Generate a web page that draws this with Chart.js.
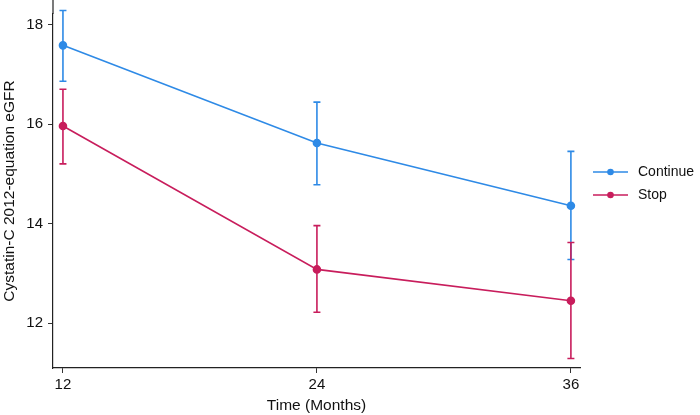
<!DOCTYPE html>
<html>
<head>
<meta charset="utf-8">
<script src="https://cdn.jsdelivr.net/npm/chart.js@4"></script>
<style>
  body { margin: 0; background: #fff; }
  #wrap { width: 700px; height: 415px; }
</style>
</head>
<body>
<div id="wrap"><canvas id="myChart"></canvas></div>
<script>
// data
const months = [12, 24, 36];
const continueMean = [17.58, 15.62, 14.36];
const continueLow = [16.86, 14.78, 13.28];
const continueHigh = [18.28, 16.44, 15.45];
const stopMean = [15.96, 13.08, 12.45];
const stopLow = [15.2, 12.22, 11.29];
const stopHigh = [16.7, 13.96, 13.62];
const yTicks = [12, 14, 16, 18];

const blue = '#2e8ae6';
const red = '#c81d5c';
const font = '"Liberation Sans", Arial, Helvetica, sans-serif';

function pts(means) {
  return months.map((m, i) => ({ x: m, y: means[i] }));
}

// error bars + custom legend
const errorBars = {
  id: 'errorBars',
  beforeDatasetsDraw(chart) {
    const ctx = chart.ctx;
    const xs = chart.scales.x, ys = chart.scales.y;
    const sets = [[continueLow, continueHigh, blue], [stopLow, stopHigh, red]];
    ctx.save();
    // y axis line runs up to the top edge in the original
    ctx.strokeStyle = '#222';
    ctx.lineWidth = 1.2;
    ctx.beginPath();
    ctx.moveTo(chart.chartArea.left, 0);
    ctx.lineTo(chart.chartArea.left, chart.chartArea.top);
    ctx.stroke();
    sets.forEach(s => {
      ctx.strokeStyle = s[2];
      ctx.lineWidth = 1.6;
      months.forEach((m, i) => {
        const px = xs.getPixelForValue(m);
        const lo = ys.getPixelForValue(s[0][i]);
        const hi = ys.getPixelForValue(s[1][i]);
        ctx.beginPath();
        ctx.moveTo(px, lo); ctx.lineTo(px, hi);
        ctx.moveTo(px - 3.5, lo); ctx.lineTo(px + 3.5, lo);
        ctx.moveTo(px - 3.5, hi); ctx.lineTo(px + 3.5, hi);
        ctx.stroke();
      });
    });
    ctx.restore();
  },
  afterDraw(chart) {
    const ctx = chart.ctx;
    const items = [['Continue', blue, 172], ['Stop', red, 195]];
    ctx.save();
    items.forEach(it => {
      ctx.strokeStyle = it[1];
      ctx.fillStyle = it[1];
      ctx.lineWidth = 1.6;
      ctx.beginPath();
      ctx.moveTo(593, it[2]); ctx.lineTo(628, it[2]);
      ctx.stroke();
      ctx.beginPath();
      ctx.arc(610.5, it[2], 3.3, 0, Math.PI * 2);
      ctx.fill();
      ctx.fillStyle = '#111';
      ctx.font = '14px ' + font;
      ctx.textBaseline = 'middle';
      ctx.fillText(it[0], 638, it[2]);
    });
    ctx.restore();
  }
};

new Chart(document.getElementById('myChart'), {
  type: 'line',
  data: {
    datasets: [
      { label: 'Continue', data: pts(continueMean), borderColor: blue, backgroundColor: blue,
        borderWidth: 1.6, pointRadius: 3.5, pointHoverRadius: 3.5, tension: 0 },
      { label: 'Stop', data: pts(stopMean), borderColor: red, backgroundColor: red,
        borderWidth: 1.6, pointRadius: 3.5, pointHoverRadius: 3.5, tension: 0 }
    ]
  },
  options: {
    responsive: true,
    maintainAspectRatio: false,
    animation: false,
    layout: { autoPadding: false, padding: { left: 0, right: 120, top: 0, bottom: 0 } },
    plugins: { legend: { display: false }, tooltip: { enabled: false } },
    scales: {
      x: {
        type: 'linear',
        min: 11.53,
        max: 36.43,
        afterBuildTicks: s => { s.ticks = months.map(v => ({ value: v })); },
        afterFit: s => { s.height = 47; },
        grid: { display: true, drawOnChartArea: false, drawTicks: true, tickLength: 5, color: '#333' },
        border: { display: true, color: '#222', width: 1.2 },
        ticks: { color: '#111', font: { family: font, size: 15 }, padding: 3, maxRotation: 0 },
        title: { display: true, text: 'Time (Months)', color: '#111',
                 font: { family: font, size: 15.5 }, padding: { top: 0, bottom: 0 } }
      },
      y: {
        min: 11.1,
        max: 18.21,
        afterBuildTicks: s => { s.ticks = yTicks.map(v => ({ value: v })); },
        afterFit: s => { s.width = 53; },
        grid: { display: true, drawOnChartArea: false, drawTicks: true, tickLength: 5, color: '#333' },
        border: { display: true, color: '#222', width: 1.2 },
        ticks: { color: '#111', font: { family: font, size: 15 }, padding: 5 },
        title: { display: true, text: 'Cystatin-C 2012-equation eGFR', color: '#111',
                 font: { family: font, size: 15.5 }, padding: 0 }
      }
    }
  },
  plugins: [errorBars]
});
</script>
</body>
</html>
